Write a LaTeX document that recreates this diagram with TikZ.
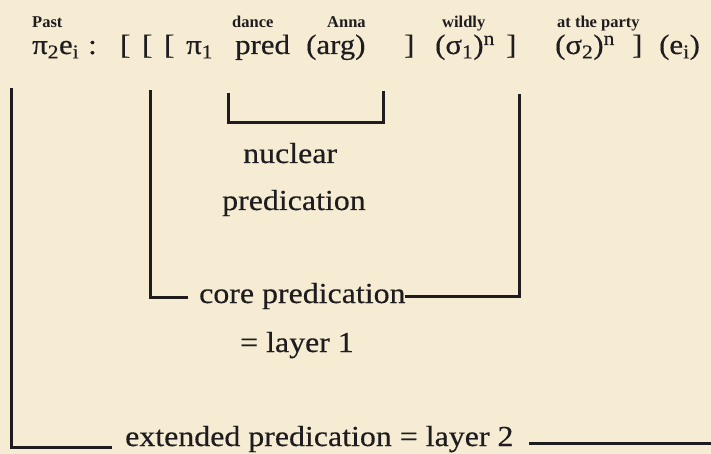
\documentclass[tikz,border=0pt]{standalone}
\usepackage{fontspec}
\setmainfont{Liberation Serif}[FakeStretch=1.1,FakeBold=0.4]
\newfontfamily\lblfont{Liberation Serif}
\definecolor{paper}{RGB}{246,236,212}
\definecolor{ink}{RGB}{30,28,30}
\begin{document}
\begin{tikzpicture}[x=1pt,y=-1pt,
  tok/.style={anchor=base west,inner sep=0pt,text=ink,font=\fontsize{28}{32}\selectfont},
  lbl/.style={anchor=base west,inner sep=0pt,text=ink,font=\lblfont\bfseries\fontsize{16.5}{19}\selectfont},
  captext/.style={anchor=base west,inner sep=0pt,text=ink,font=\fontsize{29}{33}\selectfont},
  brk/.style={draw=ink,line width=3pt,line cap=rect,line join=miter}]
\fill[paper] (0,0) rectangle (711,454);
\useasboundingbox (0,0) rectangle (711,454);
% top labels
\node[lbl] (lpast) at (32,28) {Past};
\node[lbl] (ldance) at (232,28) {dance};
\node[lbl] (lanna) at (327,28) {Anna};
\node[lbl] (lwild) at (442,28) {wildly};
\node[lbl] (lparty) at (557,28) {at the party};
% main formula
\node[tok] (t1) at (32,54) {π\textsubscript{2}e\textsubscript{i}};
\node[tok] (t2) at (88,54) {:};
\node[tok] (b1) at (120,54) {[};
\node[tok] (b2) at (142,54) {[};
\node[tok] (b3) at (164,54) {[};
\node[tok] (pi1) at (186,54) {π\textsubscript{1}};
\node[tok] (pred) at (235,54) {pred};
\node[tok] (arg) at (306,54) {(arg)};
\node[tok] (c1) at (404,54) {]};
\node[tok] (s1) at (435,54) {(σ\textsubscript{1})\textsuperscript{n}};
\node[tok] (c2) at (506,54) {]};
\node[tok] (s2) at (555,54) {(σ\textsubscript{2})\textsuperscript{n}};
\node[tok] (c3) at (632,54) {]};
\node[tok] (ei) at (659,54) {(e\textsubscript{i})};
% captions
\node[captext] (nuc1) at (243,163) {nuclear};
\node[captext] (nuc2) at (222,210) {predication};
\node[captext] (core) at (199,303) {core predication};
\node[captext] (lay1) at (240,352) {= layer 1};
\node[captext] (ext) at (125,446) {extended predication = layer 2};
% bracket coordinates
\coordinate (nA) at (228,95);
\coordinate (nB) at (228,123);
\coordinate (nC) at (383,123);
\coordinate (nD) at (383,93);
\coordinate (cA) at (150,92);
\coordinate (cB) at (150,297);
\coordinate (cC) at (186,297);
\coordinate (cD) at ([xshift=1pt]core.base east |- 0,296);
\coordinate (cE) at (519,296);
\coordinate (cF) at (519,96);
\coordinate (oA) at (11,90);
\coordinate (oB) at (11,447);
\coordinate (oC) at (110,447);
\coordinate (oD) at (529,443);
\coordinate (oE) at (711,443);
% brackets
\draw[brk] (nA) -- (nB) -- (nC) -- (nD);
\draw[brk] (cA) -- (cB) -- (cC);
\draw[brk] (cD) -- (cE) -- (cF);
\draw[brk] (oA) -- (oB) -- (oC);
\draw[brk,line cap=butt] (oD) -- (oE);
\end{tikzpicture}
\end{document}
